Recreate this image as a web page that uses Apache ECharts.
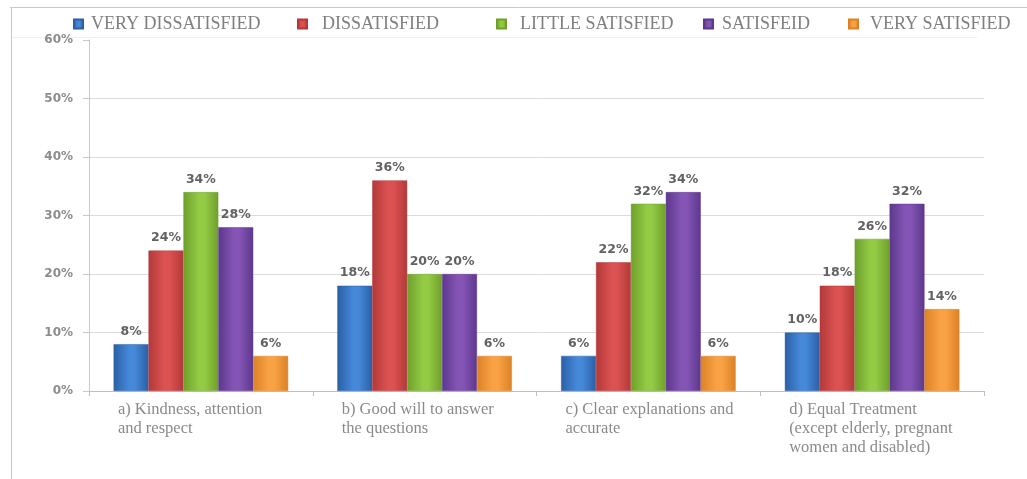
<!DOCTYPE html>
<html>
<head>
<meta charset="utf-8">
<style>
  html, body { margin: 0; padding: 0; background: #ffffff; }
  #chart { width: 1027px; height: 479px; }
</style>
<script src="https://cdn.jsdelivr.net/npm/echarts@6/dist/echarts.min.js"></script>
</head>
<body>
<div id="chart"></div>
<script>
// Survey categories (x axis)
const categories = [
  'a) Kindness, attention\nand respect',
  'b) Good will to answer\nthe questions',
  'c) Clear explanations and\naccurate',
  'd) Equal Treatment\n(except elderly, pregnant\nwomen and disabled)'
];

// Satisfaction levels (legend order)
const seriesNames = ['VERY DISSATISFIED', 'DISSATISFIED', 'LITTLE SATISFIED', 'SATISFEID', 'VERY SATISFIED'];

// Percent of respondents per level
const veryDissatisfied = [8, 18, 6, 10];
const dissatisfied     = [24, 36, 22, 18];
const littleSatisfied  = [34, 20, 32, 26];
const satisfied        = [28, 20, 34, 32];
const verySatisfied    = [6, 6, 6, 14];

// Y axis ticks
const yTicks = [0, 10, 20, 30, 40, 50, 60];

const seriesValues = [veryDissatisfied, dissatisfied, littleSatisfied, satisfied, verySatisfied];

// Bar shading: dark edge, light centre, dark edge
const palette = [
  { edge: '#2b5fa6', mid: '#4589d8', icon: '#2f5c98' },
  { edge: '#b33939', mid: '#dc5252', icon: '#b23636' },
  { edge: '#6f9f2c', mid: '#94cb44', icon: '#7ea33a' },
  { edge: '#5c388c', mid: '#8555b6', icon: '#5d3a85' },
  { edge: '#dd8126', mid: '#f9a244', icon: '#e3903a' }
];

function barGradient(p) {
  return new echarts.graphic.LinearGradient(0, 0, 1, 0, [
    { offset: 0, color: p.edge },
    { offset: 0.45, color: p.mid },
    { offset: 0.6, color: p.mid },
    { offset: 1, color: p.edge }
  ]);
}

// Legend entries are placed individually
const legendLeft = [73, 297, 496, 703, 848];
const legendPad  = [3, 10, 9, 4, 7];

const chart = echarts.init(document.getElementById('chart'));

const option = {
  backgroundColor: '#ffffff',
  animation: false,
  legend: seriesNames.map((name, i) => ({
    data: [name],
    left: legendLeft[i],
    top: 15,
    padding: 0,
    icon: 'rect',
    itemWidth: 9,
    itemHeight: 9,
    itemGap: 0,
    textStyle: {
      fontFamily: 'Liberation Serif',
      fontSize: 18,
      color: '#7f7f7f',
      padding: [0, 0, 0, legendPad[i]]
    }
  })),
  grid: { left: 89, right: 43, top: 40, bottom: 88 },
  xAxis: {
    type: 'category',
    data: categories,
    axisLine: { lineStyle: { color: '#c0c0c0', width: 1 } },
    axisTick: { show: true, length: 5, lineStyle: { color: '#c0c0c0' } },
    axisLabel: {
      interval: 0,
      margin: 9,
      formatter: function (v) {
        return v.split('\n').map(l => '{t|' + l + '}').join('\n');
      },
      rich: {
        t: {
          width: 166,
          align: 'left',
          fontFamily: 'Liberation Serif',
          fontSize: 16.5,
          lineHeight: 19,
          color: '#8a8a8a'
        }
      }
    }
  },
  yAxis: {
    type: 'value',
    min: yTicks[0],
    max: yTicks[yTicks.length - 1],
    interval: 10,
    axisLine: { show: true, lineStyle: { color: '#c8c8c8' } },
    axisTick: { show: true, length: 6, lineStyle: { color: '#c8c8c8' } },
    axisLabel: {
      margin: 16,
      formatter: '{value}%',
      fontFamily: 'DejaVu Sans',
      fontSize: 12,
      fontWeight: 'bold',
      color: '#8c8c8c'
    },
    splitLine: {
      lineStyle: {
        color: ['#dcdcdc', '#dcdcdc', '#dcdcdc', '#dcdcdc', '#dcdcdc', '#dcdcdc', 'rgba(0,0,0,0)']
      }
    }
  },
  series: seriesNames.map((name, i) => ({
    name: name,
    type: 'bar',
    data: seriesValues[i],
    barGap: '0%',
    barCategoryGap: '22%',
    itemStyle: {
      color: barGradient(palette[i]),
      borderColor: palette[i].edge,
      borderWidth: 0.5
    },
    label: {
      show: true,
      position: 'top',
      distance: 6,
      formatter: '{c}%',
      fontFamily: 'DejaVu Sans',
      fontSize: 12.5,
      fontWeight: 'bold',
      color: '#626262'
    }
  })),
  color: palette.map(p => p.icon),
  graphic: [
    { type: 'line', shape: { x1: 10, y1: 7.5, x2: 1027, y2: 7.5 }, style: { stroke: '#c9c9c9', lineWidth: 1 }, silent: true },
    { type: 'line', shape: { x1: 11.5, y1: 7, x2: 11.5, y2: 479 }, style: { stroke: '#c9c9c9', lineWidth: 1 }, silent: true },
    { type: 'line', shape: { x1: 12, y1: 37.5, x2: 977, y2: 37.5 }, style: { stroke: '#f0f0f0', lineWidth: 1 }, silent: true }
  ]
};

chart.setOption(option);
</script>
</body>
</html>
